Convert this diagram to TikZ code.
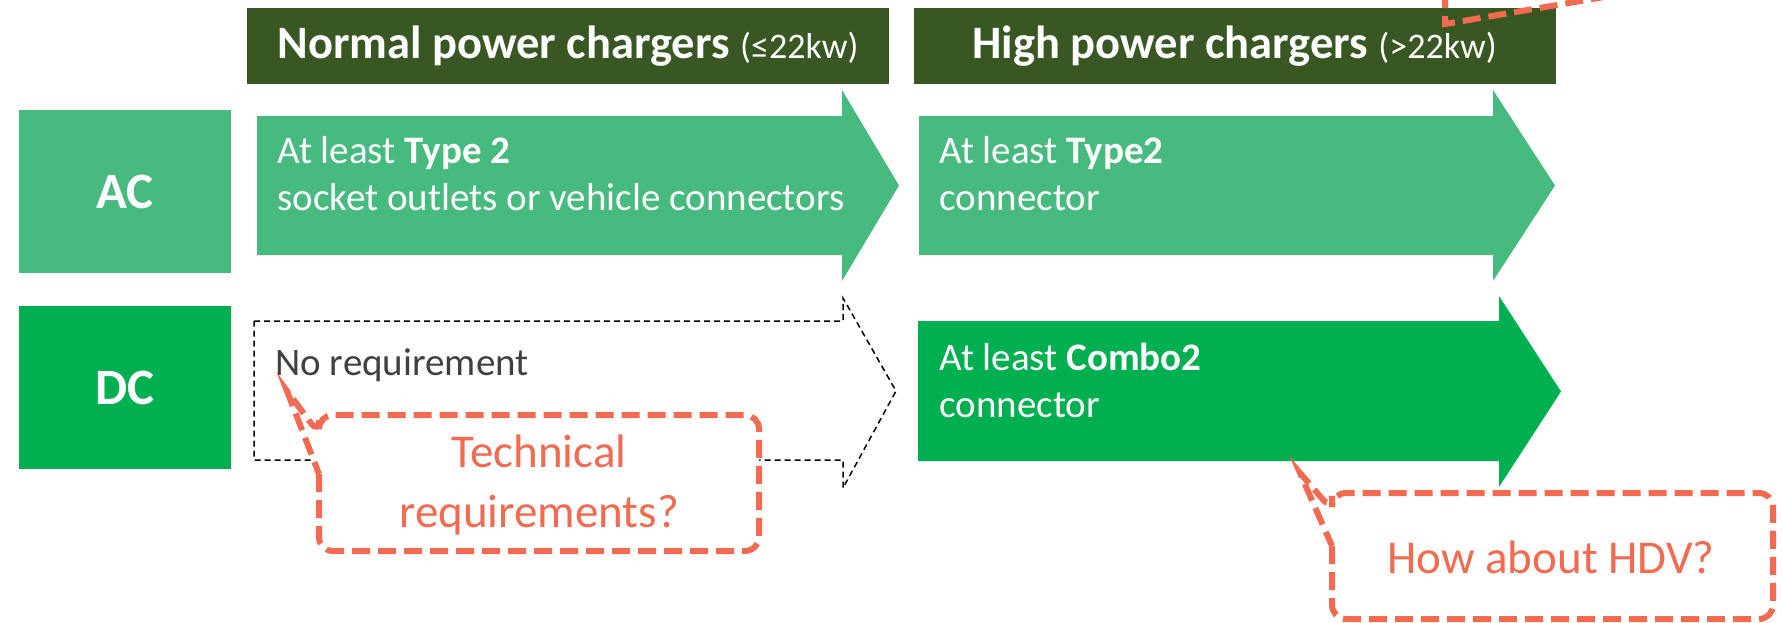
\documentclass[tikz,border=0pt]{standalone}
\usepackage{fontspec}
\setmainfont{Carlito}
\usetikzlibrary{positioning}

\definecolor{hdrgreen}{HTML}{385723}
\definecolor{acgreen}{HTML}{47BA7F}
\definecolor{dcgreen}{HTML}{00B050}
\definecolor{noteorange}{HTML}{F26B50}
\definecolor{greytext}{HTML}{404040}

\tikzset{
	header/.style={fill=hdrgreen,text=white,minimum width=321pt,minimum height=38pt,inner sep=0pt},
	kind/.style={text=white,font=\fontsize{25.5}{30}\selectfont\bfseries,minimum width=106pt,minimum height=81.5pt,inner sep=0pt},
	body/.style={text=white,font=\fontsize{19.5}{23.5}\selectfont,align=left,inner sep=0pt,anchor=base west},
	note/.style={draw=noteorange,fill=white,line width=3pt,dash pattern=on 9pt off 4pt,rounded corners=7pt},
	notetext/.style={text=noteorange,font=\fontsize{23.5}{30}\selectfont,align=center,inner sep=0pt}
}

\begin{document}
\begin{tikzpicture}[x=0.5pt,y=-0.5pt]
		\clip (0,0) rectangle (1783,622);

		% column headers
		\node[header] at (568,46) (normal) {\fontsize{23.25}{28}\selectfont\bfseries Normal power chargers \fontsize{18}{22}\selectfont\mdseries(≤22kw)};
		\node[header] at (1234.5,46) (high) {\fontsize{23.25}{28}\selectfont\bfseries High power chargers \fontsize{18}{22}\selectfont\mdseries(>22kw)};

		% row labels
		\node[kind,fill=acgreen] at (125,191.5) (ac) {AC};
		\node[kind,fill=dcgreen] at (125,387.5) (dc) {DC};

		% arrows
		\fill[acgreen] (257,116) -- (842,116) -- (842,90) -- (899,185.5) -- (842,281) -- (842,255) -- (257,255) -- cycle;
		\fill[acgreen] (919,116) -- (1493,116) -- (1493,90) -- (1555,185.5) -- (1493,281) -- (1493,255) -- (919,255) -- cycle;
		\draw[dashed,line width=0.75pt,dash pattern=on 3pt off 2pt] (254,321) -- (843,321) -- (843,298) -- (896,391) -- (843,488) -- (843,460) -- (254,460) -- cycle;
		\fill[dcgreen] (918,321) -- (1499,321) -- (1499,296) -- (1561,391.5) -- (1499,487) -- (1499,461) -- (918,461) -- cycle;

		% base anchor sits on the last line
		\node[body] at (277,210) (acnormal) {At least \textbf{Type 2}\\socket outlets or vehicle connectors};
		\node[body] at (939,210) (achigh) {At least \textbf{Type2}\\connector};
		\node[body,text=greytext] at (275,375) (dcnormal) {No requirement};
		\node[body] at (939,417) (dchigh) {At least \textbf{Combo2}\\connector};

		% callouts
		\draw[note] (319,474) -- (319,551) -- (759,551) -- (759,415) -- (319,415) -- (319,434) [sharp corners] -- (287,391) -- cycle;
		\node[notetext] at (539,485) (techq) {Technical\\requirements?};

		\draw[note] (1332,546) -- (1332,619) -- (1773,619) -- (1773,493) -- (1332,493) -- (1332,510) [sharp corners] -- (1300,473) -- cycle;
		\node[notetext] at (1551,557) (hdvq) {How about HDV?};

		\draw[note,fill=none,sharp corners] (1445,-10) -- (1445,24) -- (1610,-4);
	\end{tikzpicture}
\end{document}
